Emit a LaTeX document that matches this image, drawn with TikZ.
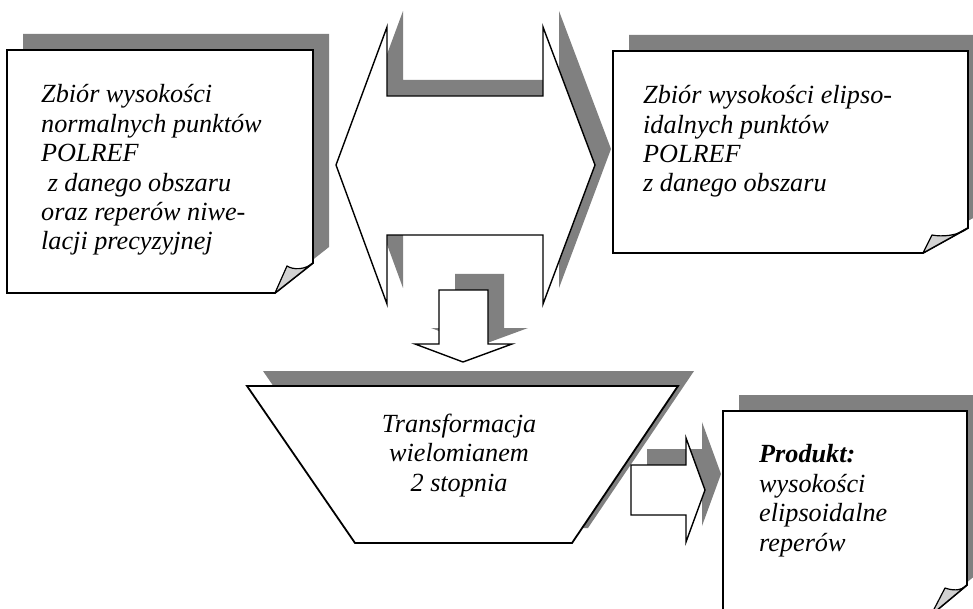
\documentclass[tikz,border=0pt]{standalone}
\usepackage{fontspec}
\setmainfont{Liberation Serif}
\usepackage{xcolor}
\definecolor{ShadowGray}{HTML}{808080}
\definecolor{FlapGray}{HTML}{D2D2D2}
\usetikzlibrary{calc}

\begin{document}
\begin{tikzpicture}[x=1pt,y=-1pt,
  shade/.style={fill=ShadowGray,draw=none,shift={(16,-16)}},
  sheet/.style={fill=white,draw=black,line width=1.8pt},
  flap/.style={fill=FlapGray,draw=black,line width=1.2pt,line join=round},
  blockarrow/.style={fill=white,draw=black,line width=1.4pt},
  txt/.style={font=\itshape\fontsize{26.2}{29.4}\selectfont,inner sep=0pt}]
  \useasboundingbox (0,0) rectangle (973,609);
  \clip (0,0) rectangle (973,609);

  % input sheets (text anchored at the baseline of its last line)
  \fill[shade] (7,50) -- (313,50) -- (313,263) -- (275,293) -- (7,293) -- cycle;
  \draw[sheet] (7,50) -- (313,50) -- (313,263) -- (275,293) -- (7,293) -- cycle;
  \draw[flap] (313,263) .. controls (305,270) and (293,270) .. (287,266) -- (275,293) -- cycle;
  \begin{scope}
    \clip (0,0) rectangle (973,256);
    \node[txt,align=left,anchor=base west] (normText) at (41,250)
      {Zbiór wysokości\\normalnych punktów\\POLREF\\\ z danego obszaru\\oraz reperów niwe-\\lacji precyzyjnej};
  \end{scope}

  \fill[shade] (613,51) -- (968,51) -- (968,228) -- (923,253) -- (613,253) -- cycle;
  \draw[sheet] (613,51) -- (968,51) -- (968,228) -- (923,253) -- (613,253) -- cycle;
  \draw[flap] (968,228) .. controls (958,236) and (942,237) .. (932,235) -- (923,253) -- cycle;
  \node[txt,align=left,anchor=base west] (elipText) at (643,192)
    {Zbiór wysokości elipso-\\idalnych punktów\\POLREF\\z danego obszaru};

  % double arrow between the sheets
  \fill[shade] (336,165) -- (387,27) -- (387,96) -- (543,96) -- (543,27) -- (595,165)
    -- (543,304) -- (543,235) -- (387,235) -- (387,304) -- cycle;
  \draw[blockarrow] (336,165) -- (387,27) -- (387,96) -- (543,96) -- (543,27) -- (595,165)
    -- (543,304) -- (543,235) -- (387,235) -- (387,304) -- cycle;

  % down arrow
  \fill[shade] (439,290) -- (488,290) -- (488,344) -- (512,344) -- (463,362) -- (415,344) -- (439,344) -- cycle;
  \draw[blockarrow] (439,290) -- (488,290) -- (488,344) -- (512,344) -- (463,362) -- (415,344) -- (439,344) -- cycle;

  % transformation
  \fill[shade,shift={(0,1)}] (247,386) -- (678,386) -- (572,543) -- (355,543) -- cycle;
  \draw[sheet] (247,386) -- (678,386) -- (572,543) -- (355,543) -- cycle;
  \node[txt,align=center,anchor=base] (trText) at (459,491)
    {Transformacja\\wielomianem\\2 stopnia};

  % right arrow
  \fill[shade] (631,465) -- (686,465) -- (686,438) -- (705,490) -- (686,542) -- (686,515) -- (631,515) -- cycle;
  \draw[blockarrow] (631,465) -- (686,465) -- (686,438) -- (705,490) -- (686,542) -- (686,515) -- (631,515) -- cycle;

  % product sheet
  \fill[shade] (723,411) -- (967,411) -- (967,585) -- (931,615) -- (723,615) -- cycle;
  \draw[sheet] (723,411) -- (967,411) -- (967,585) -- (931,615) -- (723,615) -- cycle;
  \draw[flap] (967,585) .. controls (960,592) and (951,590) .. (945,588) -- (931,615) -- cycle;
  \node[txt,align=left,anchor=base west] (prodText) at (759,551)
    {\textbf{Produkt:}\\wysokości\\elipsoidalne\\reperów};
\end{tikzpicture}
\end{document}
